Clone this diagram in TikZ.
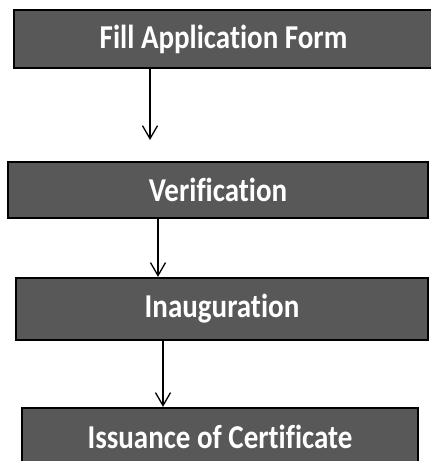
\documentclass[tikz,border=0pt]{standalone}
\usepackage{fontspec}
\setmainfont[Ligatures=NoCommon]{Carlito}
\usetikzlibrary{arrows.meta}
\definecolor{stepgray}{RGB}{88,88,88}

\begin{document}
\begin{tikzpicture}[x=1pt, y=-1pt,
	stepbox/.style={draw=black, line width=2.2pt, fill=stepgray, text=white, inner sep=0pt,
		font=\bfseries\fontsize{29}{32}\selectfont},
	flow/.style={-{Straight Barb[length=13pt,width=15pt]}, line width=1.3pt, black}]
	% page
	\clip (0,0) rectangle (431,461);

	% steps
	\node [stepbox, minimum width=419pt, minimum height=58pt] (form) at (223.5,39) {\scalebox{1}[1.15]{Fill Application Form}};
	\node [stepbox, minimum width=420pt, minimum height=56pt] (verif) at (218,190) {\scalebox{1}[1.15]{Verification}};
	\node [stepbox, minimum width=412pt, minimum height=62pt] (inaug) at (222,309) {\scalebox{1}[1.15]{Inauguration}};
	\node [stepbox, minimum width=396pt, minimum height=58pt] (cert) at (220,437) {\scalebox{1}[1.15]{Issuance of Certificate}};

	% arrows
	\coordinate (a1) at (150,140);
	\coordinate (a2) at (158,0);
	\coordinate (a3) at (163,0);
	\draw [flow] (form.south -| a1) -- (a1);
	\draw [flow] (verif.south -| a2) -- (inaug.north -| a2);
	\draw [flow] (inaug.south -| a3) -- (cert.north -| a3);
\end{tikzpicture}
\end{document}
